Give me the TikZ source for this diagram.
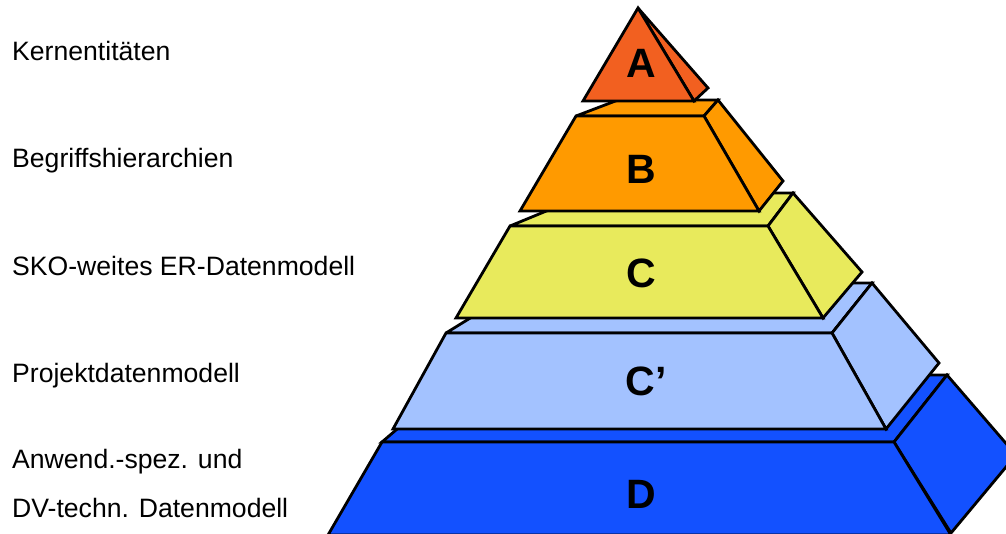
\documentclass[tikz,border=0pt]{standalone}
\usepackage{fontspec}
\setmainfont{Liberation Sans}
\definecolor{colA}{RGB}{242,96,32}
\definecolor{colB}{RGB}{255,154,0}
\definecolor{colC}{RGB}{232,234,92}
\definecolor{colCp}{RGB}{163,194,255}
\definecolor{colD}{RGB}{19,81,255}
\tikzset{
  face/.style={draw=black, line width=2.8pt, line join=miter, miter limit=3},
  lbl/.style={anchor=base west, inner sep=0pt, font=\fontsize{26.6}{30}\selectfont},
  letter/.style={anchor=base, inner sep=0pt, font=\fontsize{41}{46}\selectfont\bfseries}
}
\begin{document}
\begin{tikzpicture}[x=1pt,y=-1pt]
\useasboundingbox (0,0) rectangle (1006,533);
\clip (0,0) rectangle (1006,533);
\fill[white] (0,0) rectangle (1006,533);
% ---- D ----
\draw[face, fill=colD] (382,442) -- (894,442) -- (947,375) -- (460,375) -- cycle;
\draw[face, fill=colD] (894,442) -- (947,375) -- (1016,455) -- (951,533) -- cycle;
\draw[face, fill=colD] (382,442) -- (894,442) -- (951,535) -- (328,535) -- cycle;
% ---- C' ----
\draw[face, fill=colCp] (446,333) -- (832,333) -- (872,283) -- (527,283) -- cycle;
\draw[face, fill=colCp] (832,333) -- (872,283) -- (939,363) -- (886,429) -- cycle;
\draw[face, fill=colCp] (446,333) -- (832,333) -- (886,429) -- (393,429) -- cycle;
% ---- C ----
\draw[face, fill=colC] (510,226) -- (768,226) -- (793,193) -- (590,193) -- cycle;
\draw[face, fill=colC] (768,226) -- (793,193) -- (862,272) -- (823,318) -- cycle;
\draw[face, fill=colC] (510,226) -- (768,226) -- (823,318) -- (456,318) -- cycle;
% ---- B ----
\draw[face, fill=colB] (576,116) -- (704,116) -- (718,100) -- (618,100) -- cycle;
\draw[face, fill=colB] (704,116) -- (718,100) -- (783,181) -- (759,211) -- cycle;
\draw[face, fill=colB] (576,116) -- (704,116) -- (759,211) -- (520,211) -- cycle;
% ---- A ----
\draw[face, fill=colA] (638,8) -- (708,88) -- (694,101) -- cycle;
\draw[face, fill=colA] (638,8) -- (694,101) -- (583,101) -- cycle;
% letters
\node[letter] (lA) at (641,77) {A};
\node[letter] (lB) at (641,183) {B};
\node[letter] (lC) at (641,287) {C};
\node[letter] (lCp) at (646,395) {C’};
\node[letter] (lD) at (641,508) {D};
% labels
\node[lbl] (t1) at (12,60) {Kernentitäten};
\node[lbl] (t2) at (12,167) {Begriffshierarchien};
\node[lbl] (t3) at (12,275) {SKO-weites ER-Datenmodell};
\node[lbl] (t4) at (12,382) {Projektdatenmodell};
\node[lbl] (t5) at (12,468) {Anwend.-spez. und};
\node[lbl] (t6) at (12,517) {DV-techn. Datenmodell};
\end{tikzpicture}
\end{document}
